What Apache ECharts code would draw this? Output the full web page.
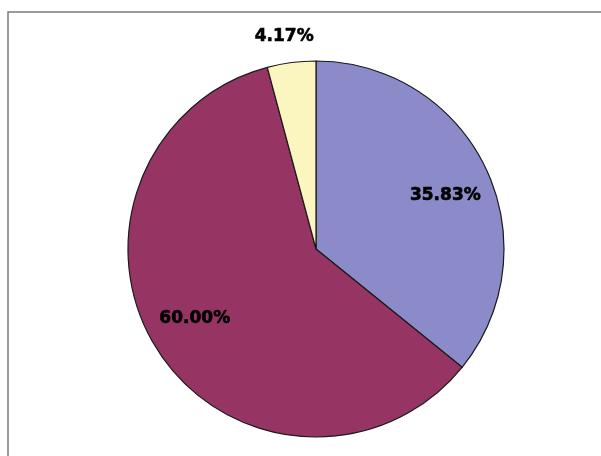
<!DOCTYPE html>
<html><head><meta charset="utf-8">
<script src="https://cdn.jsdelivr.net/npm/echarts@6/dist/echarts.min.js"></script>
<style>html,body{margin:0;padding:0;background:#fff}#c{width:601px;height:456px}</style>
</head><body><div id="c"></div>
<script>
const categories = ['A', 'B', 'C'];
const values = [35.83, 60.00, 4.17];
const colors = ['#8b8bc9', '#963464', '#fbf6c0'];
const insideLabel = [true, true, false];

const chart = echarts.init(document.getElementById('c'), null, {renderer: 'canvas'});
const center = [316, 249];
const labelStyle = {color: '#000', fontFamily: 'DejaVu Sans', fontWeight: 'bold', fontSize: 17,
  textBorderColor: '#000', textBorderWidth: 0.6,
  formatter: p => p.value.toFixed(2) + '%'};
const mk = (showFn) => categories.map((c, i) => ({
  name: c, value: values[i],
  itemStyle: {color: 'rgba(0,0,0,0)', borderWidth: 0},
  label: Object.assign({show: showFn(i), position: 'inside'}, labelStyle)
}));
chart.setOption({
  animation: false,
  graphic: [{type: 'rect', shape: {x: 8, y: 12, width: 700, height: 600},
    style: {fill: 'none', stroke: '#7a7a7a', lineWidth: 1.5}, z: -1}],
  series: [
    {type: 'pie', center: center, radius: [0, 188], startAngle: 90, clockwise: true,
     silent: true, avoidLabelOverlap: false,
     label: {show: false}, labelLine: {show: false},
     itemStyle: {borderColor: '#1a1a1a', borderWidth: 1.2},
     data: categories.map((c, i) => ({name: c, value: values[i], itemStyle: {color: colors[i]}}))},
    {type: 'pie', center: center, radius: [0, 274], startAngle: 87, clockwise: true,
     silent: true, avoidLabelOverlap: false, labelLine: {show: false},
     data: mk(i => insideLabel[i])},
    {type: 'pie', center: center, radius: [0, 424], startAngle: 91, clockwise: true,
     silent: true, avoidLabelOverlap: false, labelLine: {show: false},
     data: mk(i => !insideLabel[i])}
  ]
});
</script></body></html>
